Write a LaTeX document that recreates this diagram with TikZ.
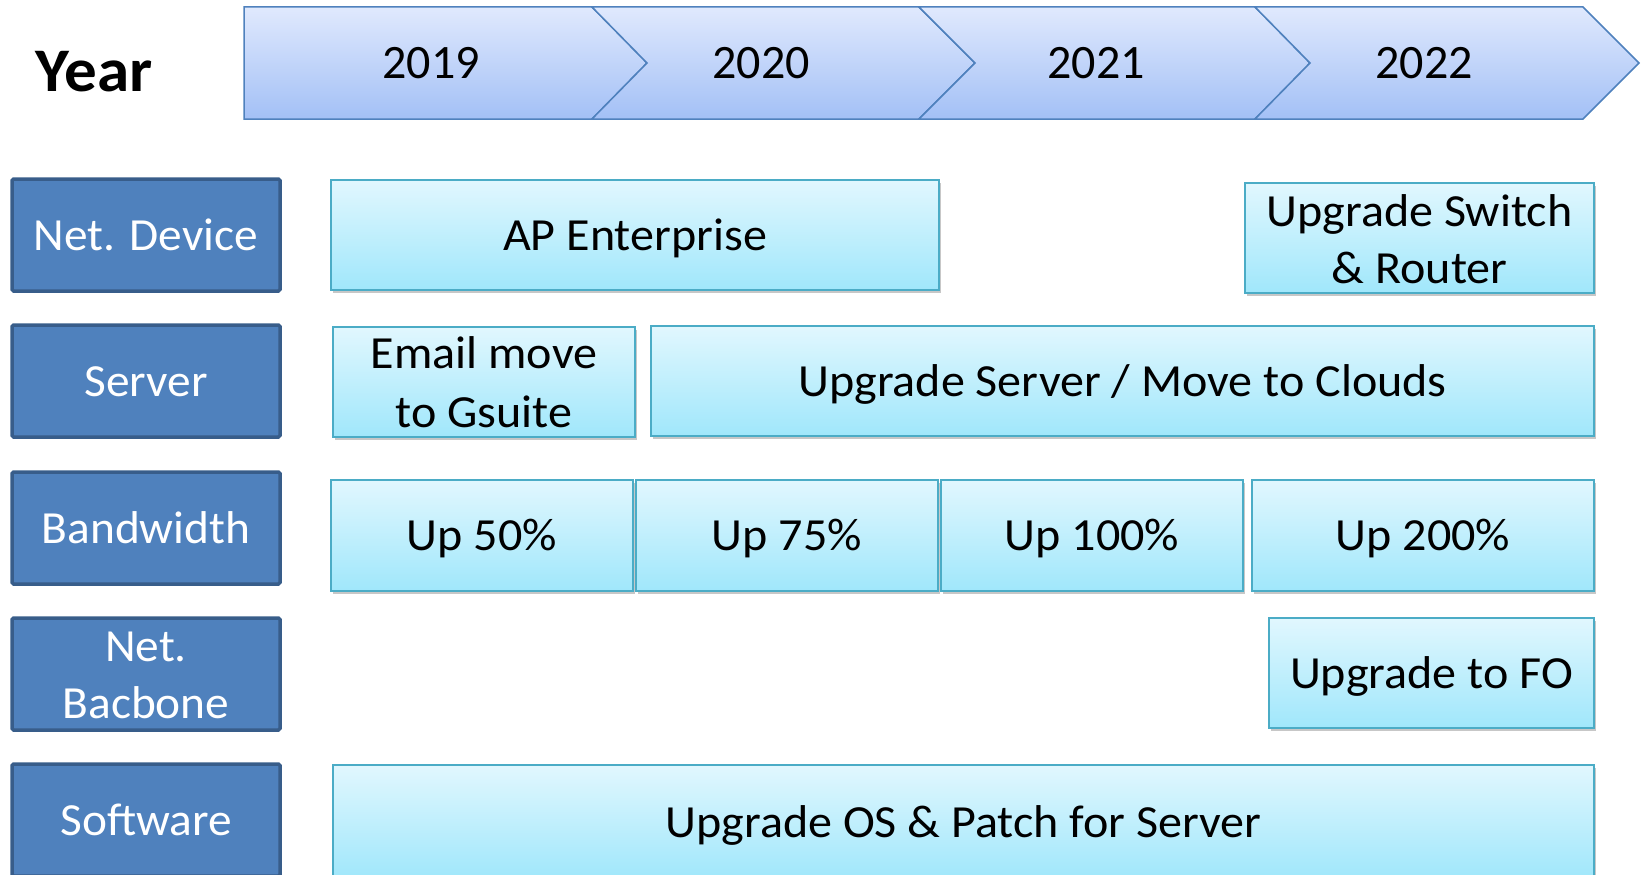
\documentclass[tikz,border=0pt]{standalone}
\usepackage{fontspec}
\setmainfont{Carlito}
\newfontfamily\actfont{Carlito}[FakeStretch=1.045]
\newfontfamily\catfont{Carlito}[FakeStretch=1.03]
\newfontfamily\yearfont{Carlito}[FakeStretch=1.05]
\usetikzlibrary{calc,shadows}
\definecolor{chevtop}{HTML}{E0E9FD}
\definecolor{chevbot}{HTML}{A3C0F6}
\definecolor{chevline}{HTML}{4F81BD}
\definecolor{acttop}{HTML}{E1F7FE}
\definecolor{actbot}{HTML}{A0E7FB}
\definecolor{actline}{HTML}{4BACC6}
\definecolor{catfill}{HTML}{4F81BD}
\definecolor{catline}{HTML}{385D8A}
\begin{document}
\begin{tikzpicture}[x=1pt,y=-1pt,
  chev/.style={top color=chevtop, bottom color=chevbot, draw=chevline, line width=1.5pt, line join=miter},
  cat/.style={fill=catfill, draw=catline, line width=3.5pt, rounded corners=1.5pt,
    minimum width=268pt, minimum height=112pt, inner sep=0pt},
  act/.style={top color=acttop, bottom color=actbot, draw=actline, line width=2pt,
    minimum height=110pt, inner sep=0pt,
    drop shadow={shadow xshift=1.5pt, shadow yshift=-2.5pt, opacity=0.22, fill=black}},
  txt/.style={anchor=base, inner sep=0pt, font=\actfont\fontsize{46}{56}\selectfont},
  wtxt/.style={anchor=base, inner sep=0pt, text=white, font=\catfont\fontsize{46}{56}\selectfont},
  yr/.style={anchor=base, inner sep=0pt, font=\fontsize{48}{58}\selectfont}
]
\useasboundingbox (0,0) rectangle (1642,875);

% Year chevrons
\shade[chev] (244,7) -- (592,7) -- (647,63) -- (592,119) -- (244,119) -- cycle;
\shade[chev] (592,7) -- (919,7) -- (975,63) -- (919,119) -- (592,119) -- (647,63) -- cycle;
\shade[chev] (919,7) -- (1255,7) -- (1310,63) -- (1255,119) -- (919,119) -- (975,63) -- cycle;
\shade[chev] (1255,7) -- (1583,7) -- (1639,63) -- (1583,119) -- (1255,119) -- (1310,63) -- cycle;

\node[anchor=base, inner sep=0pt, font=\yearfont\fontsize{62}{70}\selectfont\bfseries] (year) at (94,92) {Year};
\node[yr] (y2019) at (431,79) {2019};
\node[yr] (y2020) at (761,79) {2020};
\node[yr] (y2021) at (1096,79) {2021};
\node[yr] (y2022) at (1424,79) {2022};

% Category boxes
\node[cat] (cND) at (146,235) {};
\node[cat] (cSV) at (146,381) {};
\node[cat] (cBW) at (146,528) {};
\node[cat] (cBB) at (146,674) {};
\node[cat] (cSW) at (146,820) {};
\node[wtxt] (tND) at ($(cND.center)+(0,15)$) {Net. Device};
\node[wtxt] (tSV) at ($(cSV.center)+(0,15)$) {Server};
\node[wtxt] (tBW) at ($(cBW.center)+(0,15)$) {Bandwidth};
\node[wtxt] (tBB1) at ($(cBB.center)+(0,-13)$) {Net.};
\node[wtxt] (tBB2) at ($(cBB.center)+(0,44)$) {Bacbone};
\node[wtxt] (tSW) at ($(cSW.center)+(0,15)$) {Software};

% Activity boxes
\node[act, minimum width=608pt] (bAP) at (635,235) {};
\node[act, minimum width=349pt] (bSR) at (1419.5,238) {};
\node[act, minimum width=302pt] (bEM) at (484,382) {};
\node[act, minimum width=943pt] (bUS) at (1122.5,381) {};
\node[act, minimum width=302pt, minimum height=111pt] (b50) at (482,535.5) {};
\node[act, minimum width=302pt, minimum height=111pt] (b75) at (787,535.5) {};
\node[act, minimum width=302pt, minimum height=111pt] (b100) at (1092,535.5) {};
\node[act, minimum width=342pt, minimum height=111pt] (b200) at (1423,535.5) {};
\node[act, minimum width=325pt] (bFO) at (1431.5,673) {};
\node[act, minimum width=1261pt, minimum height=114pt] (bOS) at (963.5,822) {};

\node[txt] (tAP) at ($(bAP.center)+(0,15)$) {AP Enterprise};
\node[txt] (tSR1) at ($(bSR.center)+(0,-12)$) {Upgrade Switch};
\node[txt] (tSR2) at ($(bSR.center)+(0,45)$) {\& Router};
\node[txt] (tEM1) at ($(bEM.center)+(0,-14)$) {Email move};
\node[txt] (tEM2) at ($(bEM.center)+(0,45)$) {to Gsuite};
\node[txt] (tUS) at ($(bUS.center)+(0,15)$) {Upgrade Server / Move to Clouds};
\node[txt] (t50) at ($(b50.center)+(0,15)$) {Up 50\%};
\node[txt] (t75) at ($(b75.center)+(0,15)$) {Up 75\%};
\node[txt] (t100) at ($(b100.center)+(0,15)$) {Up 100\%};
\node[txt] (t200) at ($(b200.center)+(0,15)$) {Up 200\%};
\node[txt] (tFO) at ($(bFO.center)+(0,15)$) {Upgrade to FO};
\node[txt] (tOS) at ($(bOS.center)+(0,15)$) {Upgrade OS \& Patch for Server};
\end{tikzpicture}
\end{document}
